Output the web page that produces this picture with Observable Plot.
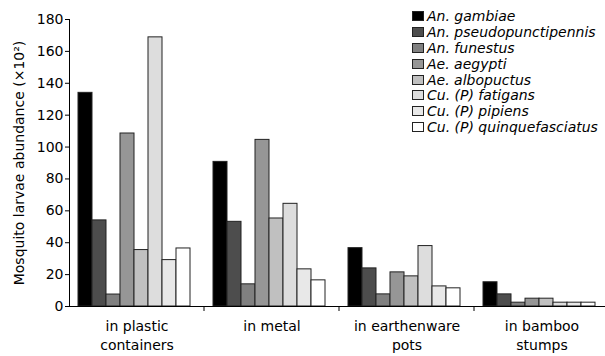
<!DOCTYPE html>
<html><head><meta charset="utf-8">
<script src="https://cdn.jsdelivr.net/npm/d3@7"></script>
<script src="https://cdn.jsdelivr.net/npm/@observablehq/plot@0.6"></script>
<style>
body{margin:0;background:#fff;}
#wrap{position:relative;width:605px;height:356px;overflow:hidden;}
#legend{position:absolute;left:412px;top:8px;font:italic 14px "DejaVu Sans",sans-serif;color:#000;}
.row{display:flex;align-items:center;height:15.9px;white-space:nowrap;}
.sw{width:12px;height:10px;border:1px solid #222;box-sizing:border-box;margin-right:3px;flex:none;}
</style></head>
<body><div id="wrap"></div>
<script>
const categories = ["in plastic\ncontainers", "in metal", "in earthenware\npots", "in bamboo\nstumps"];
const species = ["An. gambiae", "An. pseudopunctipennis", "An. funestus", "Ae. aegypti", "Ae. albopuctus", "Cu. (P) fatigans", "Cu. (P) pipiens", "Cu. (P) quinquefasciatus"];
const colors = ["#000000", "#4d4d4d", "#808080", "#969696", "#c0c0c0", "#dddddd", "#e8e8e8", "#ffffff"];
const plasticValues = [134, 54, 7.5, 108.5, 35.4, 168.8, 29.1, 36.4];
const metalValues = [90.7, 53.1, 13.9, 104.5, 55.2, 64.4, 23.3, 16.4];
const earthenwareValues = [36.6, 23.9, 7.6, 21.4, 18.9, 37.9, 12.6, 11.4];
const bambooValues = [15.2, 7.6, 2.4, 4.9, 4.9, 2.4, 2.4, 2.4];
const yTicks = [0, 20, 40, 60, 80, 100, 120, 140, 160, 180];
const yLabel = "Mosquito larvae abundance (×10²)";

const data = [plasticValues, metalValues, earthenwareValues, bambooValues].flatMap((vals, i) =>
  vals.map((v, j) => ({category: categories[i], species: species[j], value: v})));

const chart = Plot.plot({
  width: 605, height: 356,
  marginLeft: 68, marginRight: 0, marginTop: 19, marginBottom: 50,
  style: {fontFamily: "DejaVu Sans, sans-serif", fontSize: "14px", color: "#000", background: "transparent", overflow: "visible"},
  fx: {domain: categories, range: [68, 609], padding: 0},
  x: {domain: species, paddingInner: 0, paddingOuter: 0.75, align: 0.4, axis: null},
  y: {domain: [0, 180], ticks: yTicks, tickSize: 4, tickPadding: 2, line: true,
      label: yLabel, labelAnchor: "center", labelArrow: "none", labelOffset: 55},
  color: {domain: species, range: colors},
  marks: [
    Plot.barY(data, {fx: "category", x: "species", y: "value", fill: "species", stroke: "#222", strokeWidth: 1}),
    Plot.ruleY([0], {stroke: "#000"}),
    Plot.axisFx({anchor: "bottom", tickSize: 0, tickPadding: 12, lineHeight: 1.3, label: null, fontSize: 14})
  ]
});

document.getElementById("wrap").appendChild(chart);

// separator ticks between categories, placed with the fx scale
const fx = chart.scale("fx");
const ys = chart.scale("y");
const y0 = ys.apply(0);
d3.select(chart).append("g")
  .selectAll("line").data(categories.slice(1)).join("line")
  .attr("x1", d => fx.apply(d)).attr("x2", d => fx.apply(d))
  .attr("y1", y0).attr("y2", y0 + 5)
  .attr("stroke", "#000");

// legend
const legend = d3.select("#wrap").append("div").attr("id", "legend");
const rows = legend.selectAll(".row").data(species).join("div").attr("class", "row");
rows.append("div").attr("class", "sw").style("background", (d, i) => colors[i]);
rows.append("span").text(d => d);
</script>
</body></html>
